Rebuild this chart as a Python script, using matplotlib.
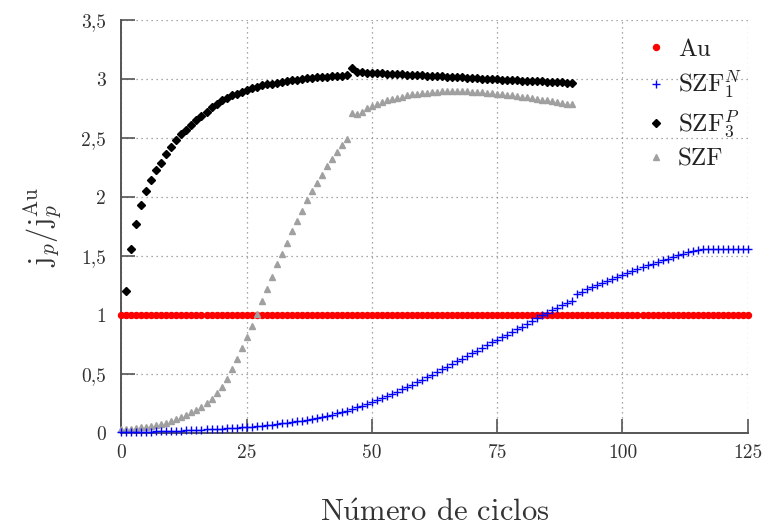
import matplotlib
matplotlib.use("Agg")
import matplotlib.pyplot as plt

plt.rcParams['font.family'] = ['cmr10', 'DejaVu Serif']
plt.rcParams['mathtext.fontset'] = 'cm'
plt.rcParams['axes.formatter.use_mathtext'] = True

# ---------------- data ----------------
au_x = list(range(0, 126))
au_y = [1.0] * 126

szf1n_x = list(range(0, 126))
szf1n_y = [
    0.005, 0.006, 0.007, 0.008, 0.009, 0.010, 0.011, 0.012, 0.013, 0.014,
    0.015, 0.017, 0.019, 0.021, 0.023, 0.025, 0.027, 0.029, 0.031, 0.033,
    0.035, 0.038, 0.041, 0.044, 0.047, 0.050, 0.054, 0.058, 0.062, 0.066,
    0.070, 0.075, 0.080, 0.086, 0.092, 0.098, 0.105, 0.112, 0.120, 0.128,
    0.136, 0.145, 0.155, 0.165, 0.176, 0.188, 0.202, 0.217, 0.232, 0.248,
    0.265, 0.281, 0.298, 0.315, 0.332, 0.350, 0.369, 0.389, 0.409, 0.429,
    0.450, 0.472, 0.494, 0.516, 0.538, 0.560, 0.583, 0.606, 0.629, 0.652,
    0.675, 0.698, 0.721, 0.744, 0.767, 0.790, 0.812, 0.834, 0.856, 0.878,
    0.900, 0.924, 0.948, 0.972, 0.996, 1.020, 1.040, 1.060, 1.080, 1.100,
    1.120, 1.180, 1.198, 1.216, 1.234, 1.252, 1.270, 1.288, 1.306, 1.323,
    1.340, 1.356, 1.372, 1.388, 1.404, 1.420, 1.434, 1.448, 1.462, 1.476,
    1.490, 1.504, 1.518, 1.530, 1.542, 1.552, 1.555, 1.555, 1.555, 1.555,
    1.555, 1.555, 1.555, 1.555, 1.555, 1.555,
]

szf3p_x = list(range(1, 91))
szf3p_y = [
    1.20, 1.56, 1.77, 1.93, 2.05, 2.14, 2.23, 2.29, 2.36, 2.42,
    2.48, 2.53, 2.57, 2.61, 2.655, 2.69, 2.72, 2.76, 2.79, 2.82,
    2.84, 2.86, 2.875, 2.89, 2.91, 2.92, 2.935, 2.945, 2.955, 2.96,
    2.97, 2.978, 2.985, 2.99, 2.995, 3.00, 3.005, 3.01, 3.013, 3.016,
    3.019, 3.022, 3.025, 3.028, 3.03, 3.09, 3.06, 3.057, 3.054, 3.052,
    3.050, 3.048, 3.046, 3.044, 3.041, 3.039, 3.037, 3.035, 3.033, 3.030,
    3.028, 3.026, 3.024, 3.022, 3.019, 3.017, 3.015, 3.013, 3.011, 3.008,
    3.006, 3.004, 3.002, 3.000, 2.997, 2.995, 2.993, 2.991, 2.989, 2.987,
    2.985, 2.983, 2.981, 2.979, 2.977, 2.975, 2.973, 2.971, 2.968, 2.965,
]

szf_x = list(range(0, 91))
szf_y = [
    0.030, 0.033, 0.037, 0.041, 0.046, 0.051, 0.057, 0.064, 0.072, 0.081,
    0.100, 0.115, 0.135, 0.155, 0.175, 0.195, 0.220, 0.250, 0.290, 0.340,
    0.390, 0.460, 0.540, 0.630, 0.720, 0.810, 0.910, 1.010, 1.120, 1.220,
    1.320, 1.430, 1.520, 1.610, 1.710, 1.800, 1.880, 1.970, 2.050, 2.120,
    2.190, 2.260, 2.320, 2.380, 2.440, 2.490, 2.710, 2.700, 2.720, 2.750,
    2.770, 2.790, 2.805, 2.820, 2.830, 2.840, 2.850, 2.860, 2.870, 2.875,
    2.880, 2.885, 2.890, 2.892, 2.895, 2.897, 2.898, 2.898, 2.897, 2.895,
    2.893, 2.890, 2.887, 2.883, 2.879, 2.875, 2.870, 2.865, 2.860, 2.855,
    2.850, 2.844, 2.838, 2.832, 2.826, 2.820, 2.813, 2.806, 2.799, 2.792,
    2.785,
]

xticks = [0, 25, 50, 75, 100, 125]
yticks = [0, 0.5, 1, 1.5, 2, 2.5, 3, 3.5]
ytick_labels = ['0', '0,5', '1', '1,5', '2', '2,5', '3', '3,5']

# ---------------- figure ----------------
fig = plt.figure(figsize=(7.63, 5.26), dpi=100)
ax = fig.add_axes([0.159, 0.177, 0.821, 0.785])

ax.plot(au_x, au_y, ls='none', marker='o', ms=4.3, color='#ff0000',
        mec='#ff0000', label='Au', clip_on=False, zorder=3)
ax.plot(szf1n_x, szf1n_y, ls='none', marker='+', ms=5.5, mew=1.0,
        color='#0000ff', label=r'SZF$_1^N$', clip_on=False, zorder=4)
ax.plot(szf3p_x, szf3p_y, ls='none', marker='D', ms=3.6, color='black',
        label=r'SZF$_3^P$', clip_on=False, zorder=4)
ax.plot(szf_x, szf_y, ls='none', marker='^', ms=4.2, color='#a0a0a0',
        mec='#a0a0a0', label='SZF', clip_on=False, zorder=3)

ax.set_xlim(0, 125)
ax.set_ylim(0, 3.5)
ax.set_xticks(xticks)
ax.set_xticklabels([str(t) for t in xticks])
ax.set_yticks(yticks)
ax.set_yticklabels(ytick_labels)

ax.grid(True, color='#8c8c8c', linestyle=(0, (1, 3)), linewidth=0.9)
ax.set_axisbelow(True)
for s in ['top', 'right']:
    ax.spines[s].set_visible(False)
for s in ['left', 'bottom']:
    ax.spines[s].set_color('#555555')
    ax.spines[s].set_linewidth(1.4)

ax.tick_params(axis='both', direction='in', length=10, width=1.2,
               color='#555555', labelsize=14, labelcolor='#333333')
ax.tick_params(axis='x', pad=8)
ax.tick_params(axis='y', pad=11)

ax.set_xlabel(r'N$\acute{\mathrm{u}}$mero de ciclos', fontsize=22,
              labelpad=27, color='#333333')
ax.set_ylabel(r'$\mathrm{j}_p/\mathrm{j}_p^{\mathrm{Au}}$', fontsize=22,
              labelpad=12, color='#333333')

leg = ax.legend(loc='upper left', bbox_to_anchor=(0.829, 0.955),
                frameon=False, fontsize=18, handletextpad=0.3,
                labelspacing=0.32, handlelength=1.2, borderpad=0.0,
                borderaxespad=0.0, markerscale=1.0)
for t in leg.get_texts():
    t.set_color('#222222')

fig.savefig('out.png', dpi=100)
